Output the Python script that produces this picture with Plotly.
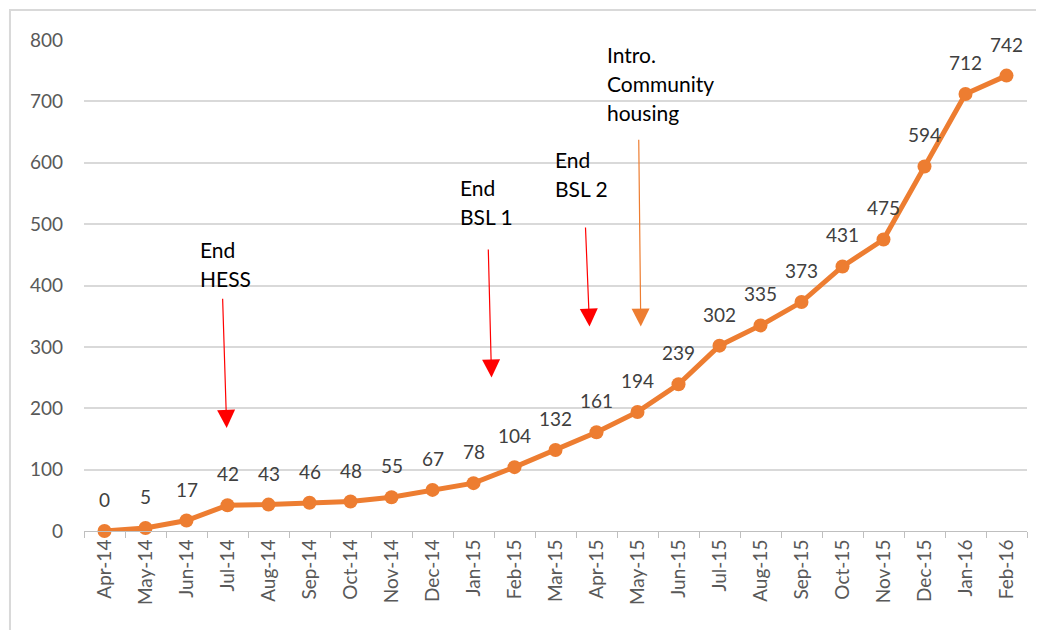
import plotly.graph_objects as go

# === Daten ===
months = ["Apr-14", "May-14", "Jun-14", "Jul-14", "Aug-14", "Sep-14", "Oct-14", "Nov-14",
          "Dec-14", "Jan-15", "Feb-15", "Mar-15", "Apr-15", "May-15", "Jun-15", "Jul-15",
          "Aug-15", "Sep-15", "Oct-15", "Nov-15", "Dec-15", "Jan-16", "Feb-16"]
values = [0, 5, 17, 42, 43, 46, 48, 55, 67, 78, 104, 132, 161, 194, 239, 302,
          335, 373, 431, 475, 594, 712, 742]

# Ereignisse: Text, Pfeil-Anfang (x-Index, y), Pfeil-Spitze (x-Index, y), Farbe, Textposition
event_labels = [["End", "HESS"], ["End", "BSL 1"], ["End", "BSL 2"], ["Intro.", "Community", "housing"]]
event_tail = [(2.88, 381), (9.36, 461), (11.73, 497), (13.03, 640)]
event_head = [(2.98, 168), (9.44, 250), (11.83, 333), (13.08, 333)]
event_colors = ["#ff0000", "#ff0000", "#ff0000", "#ed7d31"]
event_text_pos = [(2.27, 482), (8.63, 584), (10.93, 629), (12.2, 800)]

ORANGE = "#ed7d31"
FONT = "Lato"

fig = go.Figure()
fig.add_trace(go.Scatter(
    x=months,
    y=values,
    mode="lines+markers",
    line=dict(color=ORANGE, width=5),
    marker=dict(color=ORANGE, size=14),
    cliponaxis=False,
    hoverinfo="x+y",
))

annotations = []
# Datenbeschriftungen
for i, v in enumerate(values):
    annotations.append(dict(
        x=i, y=v, xref="x", yref="y", text=str(v), showarrow=False,
        yanchor="bottom", yshift=18,
        font=dict(family=FONT, size=19, color="#404040"),
    ))

# Pfeile und Texte
for lines, tail, head, col, tpos in zip(event_labels, event_tail, event_head, event_colors, event_text_pos):
    annotations.append(dict(
        x=head[0], y=head[1], ax=tail[0], ay=tail[1],
        xref="x", yref="y", axref="x", ayref="y",
        showarrow=True, arrowhead=2, arrowsize=3, arrowwidth=1.2,
        arrowcolor=col, text="",
    ))
    for j, line in enumerate(lines):
        annotations.append(dict(
            x=tpos[0], y=tpos[1], xref="x", yref="y",
            text=line, showarrow=False,
            xanchor="left", yanchor="top", yshift=-29 * j,
            font=dict(family=FONT, size=21, color="#000000"),
        ))

# Seite hat 8px Rand -> Ränder entsprechend verschoben
fig.update_layout(
    width=1044, height=630,
    margin=dict(l=76, r=25, t=32, b=107),
    plot_bgcolor="white",
    paper_bgcolor="white",
    showlegend=False,
    annotations=annotations,
    shapes=[dict(
        type="rect", xref="paper", yref="paper",
        x0=-0.0785, x1=1.05, y0=-0.4, y1=1.061,
        line=dict(color="#d9d9d9", width=2),
    )],
    xaxis=dict(
        type="category",
        range=[-0.5, len(months) - 0.5],
        tickangle=-90,
        tickson="boundaries",
        showgrid=False,
        showline=True, linecolor="#bfbfbf", linewidth=1,
        ticks="outside", ticklen=6, tickcolor="#bfbfbf",
        tickfont=dict(family=FONT, size=19, color="#595959"),
        automargin=False,
        fixedrange=True,
    ),
    yaxis=dict(
        range=[0, 800],
        dtick=100,
        showgrid=True, gridcolor="#d9d9d9", gridwidth=1.5,
        zeroline=False,
        ticks="",
        ticklabelstandoff=20,
        automargin=False,
        tickfont=dict(family=FONT, size=19, color="#595959"),
    ),
)

fig.write_html("out.html")
